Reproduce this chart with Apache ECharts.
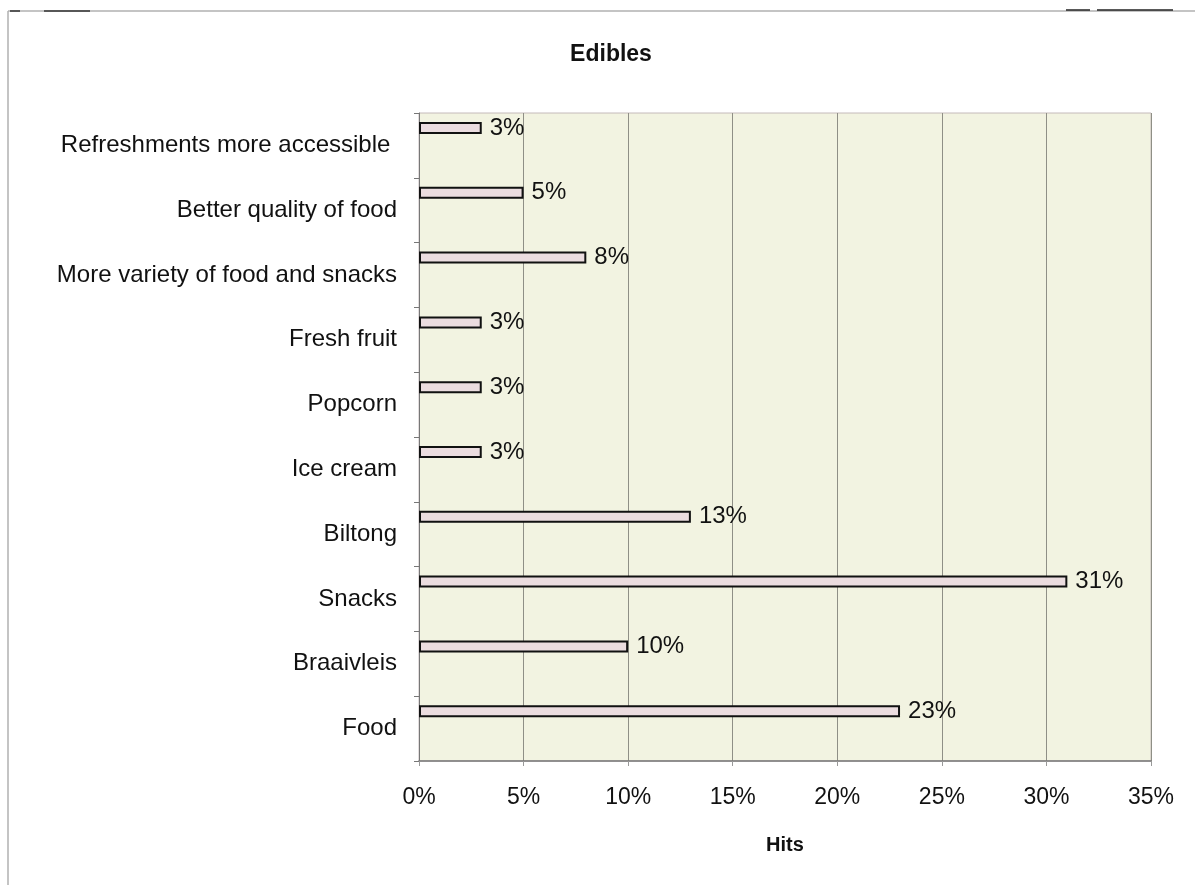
<!DOCTYPE html>
<html>
<head>
<meta charset="utf-8">
<script src="https://cdn.jsdelivr.net/npm/echarts@6/dist/echarts.min.js"></script>
<style>
html,body{margin:0;padding:0;background:#fff;}
#c{width:1195px;height:885px;}
</style>
</head>
<body>
<div id="c"></div>
<script>
var categories = ['Food', 'Braaivleis', 'Snacks', 'Biltong', 'Ice cream', 'Popcorn', 'Fresh fruit', 'More variety of food and snacks', 'Better quality of food', 'Refreshments more accessible '];
var hits = [23, 10, 31, 13, 3, 3, 3, 8, 5, 3];
var xTicks = {min: 0, max: 35, interval: 5};
var emptySeries = [null, null, null, null, null, null, null, null, null, null];

var chart = echarts.init(document.getElementById('c'), null, {renderer: 'canvas'});
var FONT = '"Liberation Sans", Arial, sans-serif';
chart.setOption({
  backgroundColor: '#ffffff',
  animation: false,
  title: {
    text: 'Edibles',
    left: 606,
    top: 38,
    textAlign: 'center',
    textStyle: {fontFamily: FONT, fontWeight: 'bold', fontSize: 23, color: '#111'}
  },
  grid: {
    left: 419, right: 44, top: 113, bottom: 124,
    show: true,
    backgroundColor: '#f2f3e1',
    borderColor: '#c4baba',
    borderWidth: 1,
    containLabel: false
  },
  xAxis: {
    type: 'value',
    min: xTicks.min, max: xTicks.max, interval: xTicks.interval,
    name: 'Hits',
    nameLocation: 'middle',
    nameGap: 84,
    nameTextStyle: {fontFamily: FONT, fontWeight: 'bold', fontSize: 20, color: '#111', verticalAlign: 'middle'},
    axisLine: {show: true, lineStyle: {color: '#777', width: 1.5}},
    axisTick: {show: true, length: 5, lineStyle: {color: '#999'}},
    axisLabel: {formatter: '{value}%', fontFamily: FONT, fontSize: 23, color: '#111', margin: 25},
    splitLine: {show: true, lineStyle: {color: '#8f8f86', width: 1}}
  },
  yAxis: {
    type: 'category',
    data: categories,
    axisLine: {show: true, lineStyle: {color: '#777', width: 1}},
    axisTick: {show: true, length: 5, lineStyle: {color: '#777'}},
    axisLabel: {fontFamily: FONT, fontSize: 24, color: '#111', margin: 22},
    splitLine: {show: false}
  },
  series: [
    {
      type: 'bar',
      data: hits,
      barWidth: 12,
      barGap: '190%',
      itemStyle: {color: '#ebdcdf', borderColor: '#111', borderWidth: 2},
      label: {show: true, position: 'right', distance: 8, formatter: '{c}%', fontFamily: FONT, fontSize: 24, color: '#111'}
    },
    {
      type: 'bar',
      data: emptySeries,
      barWidth: 12,
      barGap: '190%',
      silent: true
    }
  ],
  graphic: [
    {type: 'line', shape: {x1: 8, y1: 11, x2: 1195, y2: 11}, style: {stroke: '#b0b0b0', lineWidth: 1.5}},
    {type: 'line', shape: {x1: 8, y1: 11, x2: 8, y2: 885}, style: {stroke: '#b0b0b0', lineWidth: 1.5}},
    {type: 'line', shape: {x1: 10, y1: 11, x2: 20, y2: 11}, style: {stroke: '#333', lineWidth: 1.5}},
    {type: 'line', shape: {x1: 44, y1: 11, x2: 90, y2: 11}, style: {stroke: '#333', lineWidth: 1.5}},
    {type: 'line', shape: {x1: 1066, y1: 10, x2: 1090, y2: 10}, style: {stroke: '#222', lineWidth: 1.5}},
    {type: 'line', shape: {x1: 1097, y1: 10, x2: 1173, y2: 10}, style: {stroke: '#222', lineWidth: 1.5}}
  ]
});
</script>
</body>
</html>
